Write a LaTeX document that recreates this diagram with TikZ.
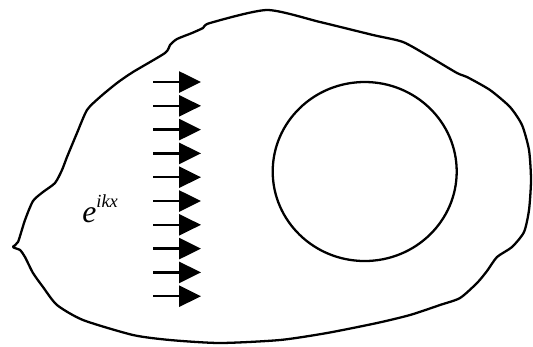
\documentclass[tikz,border=0pt]{standalone}
\usepackage{fontspec}
\setmainfont{Liberation Serif}
\usetikzlibrary{arrows.meta}

\begin{document}
\begin{tikzpicture}[
  x=0.02cm, y=-0.02cm,
  line/.style={line width=1.3pt, draw=black, line join=round},
  label/.style={inner sep=0pt, font=\fontsize{18}{20}\selectfont\itshape},
  wave/.style={line width=1.3pt, draw=black, -{Triangle[length=12.5pt,width=12pt]}},
]
\useasboundingbox (0,0) rectangle (533,346);

% Region boundary
\draw[line] plot[smooth cycle, tension=0.4] coordinates {
  (267,10) (320,22) (373,35) (403,42) (430,57) (457,73) (467,77)
  (490,90) (510,107) (522,125) (529,150) (531,180) (529,210) (524,232)
  (512,247) (497,257) (487,271) (477,283) (460,298) (440,305) (410,315)
  (377,323) (327,333) (280,340) (220,343) (170,340) (133,335) (83,320)
  (57,305) (43,287) (33,273) (25,257) (20,250) (13,247) (18,242)
  (25,220) (33,201) (43,192) (55,183) (62,170) (67,157) (77,133)
  (87,110) (100,97) (117,83) (133,72) (165,53) (170,45) (177,39)
  (192,33) (203,28) (210,23)
};

% Scatterer
\draw[line] (364.7,171.5) ellipse [x radius=92, y radius=89.5];

% Incident plane wave
\foreach \i in {0,...,9} {
  \coordinate (s\i) at (153,82+23.8*\i);
  \coordinate (t\i) at (201,82+23.8*\i);
  \draw[wave] (s\i) -- (t\i);
}
\node[label, anchor=base west] (inc) at (82,222)
  {e\raisebox{8.3pt}{\fontsize{10.5}{12}\selectfont ikx}};

\end{tikzpicture}
\end{document}
